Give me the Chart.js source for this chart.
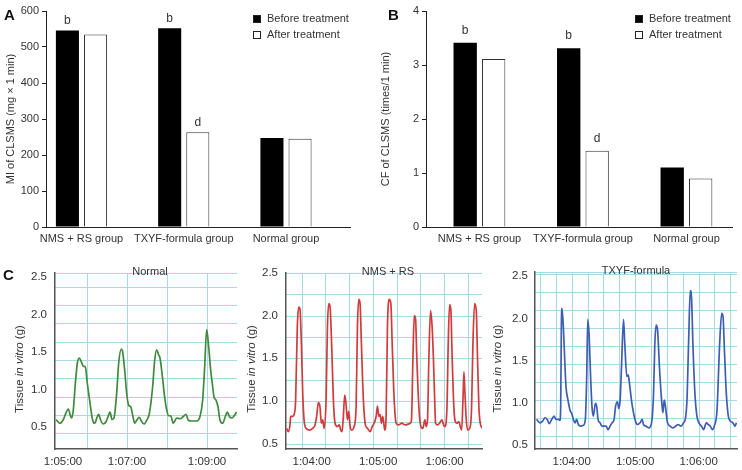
<!DOCTYPE html>
<html>
<head>
<meta charset="utf-8">
<script src="https://cdn.jsdelivr.net/npm/chart.js@4.4.1/dist/chart.umd.min.js"></script>
<style>
  html, body { margin: 0; padding: 0; background: #fff; }
  #wrap { position: relative; width: 742px; height: 470px; }
  .panel { position: absolute; }
</style>
</head>
<body>
<div id="wrap">
  <div class="panel" style="left:0;top:0;width:371px;height:255px"><canvas id="chartA"></canvas></div>
  <div class="panel" style="left:371px;top:0;width:371px;height:255px"><canvas id="chartB"></canvas></div>
  <div class="panel" style="left:0;top:258px;width:245px;height:212px"><canvas id="chartNormal"></canvas></div>
  <div class="panel" style="left:245px;top:258px;width:245px;height:212px"><canvas id="chartNms"></canvas></div>
  <div class="panel" style="left:490px;top:258px;width:252px;height:212px"><canvas id="chartTxyf"></canvas></div>
</div>
<script>
const groups = ["NMS + RS group", "TXYF-formula group", "Normal group"];
const miBefore = [546, 552, 247];
const miAfter = [535, 263, 245];
const cfBefore = [3.41, 3.31, 1.1];
const cfAfter = [3.11, 1.41, 0.9];
const marksBefore = ["b", "b", ""];
const marksAfter = ["", "d", ""];

const tensionTicks = [0.5, 1.0, 1.5, 2.0, 2.5];

// panel C traces: time in seconds after 1:00:00, tension in g
const normalTime = [313.5, 319.5, 324.5, 328.5, 332, 335.5, 337, 339.5, 342.5, 345.5, 348.5, 351.5, 354.5, 357.5, 360.5, 364.5, 368.5, 371.5, 375.5, 377.5, 380.5, 384.5, 388.5, 392.5, 394.5, 397.5, 400.5, 404.5, 407.5, 411.5, 413.5, 416.5, 419.5, 422.5, 425.5, 428.5, 431.5, 434.5, 438.5, 441.5, 445.5, 449.5, 453.5, 458.5, 461.5, 464.5, 467.5, 469.5, 472.5, 476.5, 479.5, 482.5, 485.5, 489.5, 494.5, 499.5, 504.5, 508.5, 512, 517, 524.5, 529.5, 533.5, 536.5, 539.5, 542.5, 545.5, 548.5, 550.5, 553.5, 556.5, 559.5, 563.5, 567.5, 570.5, 573.5, 577.5, 581.5, 584.5];
const normalTension = [0.60, 0.55, 0.60, 0.69, 0.74, 0.64, 0.62, 0.73, 1.08, 1.35, 1.42, 1.37, 1.31, 1.30, 1.08, 0.82, 0.59, 0.55, 0.64, 0.67, 0.59, 0.54, 0.57, 0.66, 0.70, 0.60, 0.62, 0.95, 1.35, 1.54, 1.50, 1.26, 0.95, 0.79, 0.77, 0.66, 0.55, 0.59, 0.63, 0.58, 0.54, 0.59, 0.68, 1.04, 1.39, 1.53, 1.46, 1.42, 1.22, 0.90, 0.73, 0.65, 0.65, 0.55, 0.62, 0.61, 0.64, 0.67, 0.59, 0.58, 0.58, 0.64, 0.86, 1.30, 1.80, 1.57, 1.26, 1.04, 0.90, 0.86, 0.77, 0.59, 0.55, 0.64, 0.70, 0.64, 0.62, 0.66, 0.70];
const normalTickTimes = [324, 420, 540];
const normalTickLabels = ["1:05:00", "1:07:00", "1:09:00"];

const nmsTime = [217.4, 218.9, 220.4, 221.0, 222.8, 224.0, 225.5, 227.0, 228.2, 229.4, 230.7, 231.9, 233.1, 234.9, 237.9, 240.9, 243.0, 244.5, 246.0, 247.5, 248.7, 249.9, 251.2, 253.0, 254.2, 255.4, 256.6, 258.1, 259.6, 261.1, 263.2, 265.0, 266.2, 267.4, 268.6, 269.8, 271.0, 272.3, 273.5, 274.7, 276.2, 278.3, 280.1, 281.3, 282.5, 283.7, 284.9, 286.7, 288.5, 290.4, 292.8, 294.6, 296.4, 298.2, 299.4, 300.6, 301.8, 303.0, 304.2, 306.0, 307.2, 308.4, 309.9, 311.5, 312.7, 314.5, 316.3, 318.4, 321.4, 324.4, 327.4, 328.9, 330.1, 331.4, 332.6, 333.8, 335.0, 336.8, 338.6, 340.4, 342.2, 343.4, 344.6, 345.8, 347.3, 348.8, 350.0, 350.9, 351.9, 353.7, 355.5, 357.6, 359.1, 360.3, 362.1, 363.3, 364.5, 365.7, 366.9, 368.1, 369.3, 371.2, 373.0, 374.2, 375.4, 376.6, 377.5, 378.4, 379.6, 380.8, 383.2, 384.4, 385.6, 387.1, 388.6, 389.8, 391.0, 392.2, 394.1];
const nmsTension = [0.68, 0.64, 0.72, 0.82, 0.82, 0.84, 1.01, 1.86, 2.10, 2.08, 1.67, 1.09, 0.78, 0.68, 0.66, 0.68, 0.72, 0.82, 0.98, 0.93, 0.74, 0.78, 0.68, 1.01, 1.86, 2.14, 2.10, 1.63, 1.01, 0.74, 0.70, 0.72, 0.66, 0.64, 0.82, 1.07, 0.97, 0.78, 0.88, 0.70, 0.66, 0.70, 0.93, 1.86, 2.19, 2.14, 1.67, 1.01, 0.72, 0.68, 0.64, 0.70, 0.74, 0.82, 0.94, 0.82, 0.84, 0.74, 0.82, 0.66, 0.82, 1.86, 2.19, 2.14, 1.67, 1.01, 0.74, 0.72, 0.74, 0.72, 0.73, 0.74, 0.78, 1.48, 2.00, 1.96, 1.48, 0.93, 0.70, 0.68, 0.78, 0.70, 0.78, 1.48, 2.06, 1.86, 1.47, 1.09, 0.74, 0.72, 0.74, 0.78, 0.72, 0.70, 0.90, 1.67, 2.13, 2.06, 1.48, 1.01, 0.78, 0.74, 0.76, 0.70, 0.66, 1.01, 1.34, 1.09, 0.78, 0.66, 0.70, 0.93, 1.67, 2.14, 2.06, 1.48, 0.93, 0.74, 0.68];
const nmsTickTimes = [240, 300, 360];
const nmsTickLabels = ["1:04:00", "1:05:00", "1:06:00"];

const txyfTime = [206.8, 210.0, 212.5, 214.7, 216.9, 218.8, 221.1, 223.3, 225.2, 227.4, 228.9, 229.6, 230.2, 230.8, 232.1, 233.4, 234.6, 236.5, 238.4, 240.3, 241.6, 243.2, 244.7, 246.3, 248.5, 251.1, 252.9, 254.2, 255.2, 256.4, 258.0, 259.3, 260.5, 262.4, 263.7, 264.9, 266.8, 268.7, 270.6, 272.5, 274.4, 276.3, 278.2, 280.1, 281.4, 283.3, 284.5, 285.8, 287.1, 289.0, 290.2, 292.1, 293.4, 294.6, 296.5, 298.4, 300.3, 302.2, 304.7, 306.6, 307.9, 310.4, 312.9, 315.5, 317.4, 318.6, 319.9, 321.2, 323.1, 325.0, 326.2, 327.5, 328.7, 330.6, 333.2, 335.7, 338.2, 340.7, 343.3, 345.8, 347.4, 349.0, 350.5, 352.1, 353.4, 354.6, 356.5, 358.4, 360.3, 362.8, 364.7, 367.3, 369.2, 371.1, 373.0, 374.8, 377.4, 379.9, 381.8, 383.1, 384.3, 386.2, 388.1, 390.0, 392.5, 394.4, 395.7];
const txyfTension = [0.80, 0.76, 0.78, 0.82, 0.80, 0.75, 0.80, 0.84, 0.80, 0.80, 0.79, 0.95, 1.90, 2.12, 1.90, 1.51, 1.19, 1.03, 0.91, 0.86, 0.80, 0.76, 0.80, 0.74, 0.72, 0.73, 0.80, 1.31, 1.99, 1.82, 1.27, 0.93, 0.84, 0.99, 0.95, 0.80, 0.76, 0.72, 0.72, 0.72, 0.68, 0.72, 0.76, 0.80, 0.95, 1.01, 0.93, 1.03, 1.43, 1.99, 1.70, 1.31, 1.33, 1.23, 1.03, 0.88, 0.78, 0.74, 0.76, 0.80, 0.74, 0.72, 0.70, 0.76, 1.11, 1.70, 1.92, 1.86, 1.39, 1.03, 0.88, 1.03, 0.95, 0.76, 0.72, 0.70, 0.72, 0.74, 0.72, 0.76, 0.80, 1.03, 1.70, 2.33, 2.22, 1.70, 1.11, 0.84, 0.76, 0.72, 0.68, 0.76, 0.74, 0.72, 0.68, 0.72, 0.91, 1.70, 2.06, 2.02, 1.66, 1.11, 0.84, 0.78, 0.76, 0.72, 0.76];
const txyfTickTimes = [240, 300, 360];
const txyfTickLabels = ["1:04:00", "1:05:00", "1:06:00"];

const FAM = "'Liberation Sans', Arial, sans-serif";
const TEXT = "#333";
Chart.defaults.font.family = FAM;
Chart.defaults.font.size = 11;
Chart.defaults.color = TEXT;

const panelLetter = {
  id: "panelLetter",
  afterDraw(chart, args, opts) {
    if (!opts.text) return;
    const ctx = chart.ctx;
    ctx.save();
    ctx.font = `bold 15px ${FAM}`;
    ctx.fillStyle = "#111";
    ctx.fillText(opts.text, opts.x, opts.y);
    ctx.restore();
  }
};

// letters over the bars
const sigMarks = {
  id: "sigMarks",
  afterDatasetsDraw(chart, args, opts) {
    const ctx = chart.ctx;
    ctx.save();
    ctx.font = `12px ${FAM}`;
    ctx.fillStyle = TEXT;
    ctx.textAlign = "center";
    opts.marks.forEach((list, di) => {
      chart.getDatasetMeta(di).data.forEach((bar, i) => {
        if (list[i]) ctx.fillText(list[i], bar.x, bar.y - opts.gap);
      });
    });
    ctx.restore();
  }
};

const boxLegend = {
  id: "boxLegend",
  afterDraw(chart, args, opts) {
    const ctx = chart.ctx;
    ctx.save();
    ctx.font = `11px ${FAM}`;
    ctx.textBaseline = "middle";
    chart.data.datasets.forEach((ds, i) => {
      const y = opts.y + i * 16;
      ctx.fillStyle = ds.backgroundColor;
      ctx.fillRect(opts.x, y - 4, 8, 8);
      ctx.strokeStyle = "#222";
      ctx.lineWidth = 1;
      ctx.strokeRect(opts.x + 0.5, y - 3.5, 7, 7);
      ctx.fillStyle = TEXT;
      ctx.fillText(ds.label, opts.x + 14, y);
    });
    ctx.restore();
  }
};

// light blue chart-recorder grid behind the traces
const recorderGrid = {
  id: "recorderGrid",
  beforeDraw(chart, args, opts) {
    const { ctx, chartArea: a, scales: { x, y } } = chart;
    ctx.save();
    ctx.strokeStyle = "#a9d9e4";
    ctx.lineWidth = 1;
    ctx.beginPath();
    let v = opts.x0 - Math.floor((opts.x0 - x.min) / opts.dx) * opts.dx;
    for (; v <= x.max; v += opts.dx) {
      const px = Math.round(x.getPixelForValue(v)) + 0.5;
      ctx.moveTo(px, a.top); ctx.lineTo(px, a.bottom);
    }
    v = opts.y0 - Math.floor((opts.y0 - y.min) / opts.dy) * opts.dy;
    for (; v <= y.max; v += opts.dy) {
      const py = Math.round(y.getPixelForValue(v)) + 0.5;
      ctx.moveTo(a.left, py); ctx.lineTo(a.right, py);
    }
    ctx.moveTo(a.left, a.top + 0.5); ctx.lineTo(a.right, a.top + 0.5);
    ctx.stroke();
    ctx.restore();
  }
};

const tissueTitle = {
  id: "tissueTitle",
  afterDraw(chart, args, opts) {
    const { ctx, chartArea: a } = chart;
    const parts = [["Tissue ", ""], ["in vitro", "italic "], [" (g)", ""]];
    ctx.save();
    ctx.translate(opts.x, (a.top + a.bottom) / 2 + 8);
    ctx.rotate(-Math.PI / 2);
    ctx.fillStyle = TEXT;
    ctx.textBaseline = "middle";
    const widths = parts.map(([t, s]) => { ctx.font = `${s}11.5px ${FAM}`; return ctx.measureText(t).width; });
    let pos = -widths.reduce((p, w) => p + w, 0) / 2;
    parts.forEach(([t, s], i) => {
      ctx.font = `${s}11.5px ${FAM}`;
      ctx.fillText(t, pos, 0);
      pos += widths[i];
    });
    ctx.restore();
  }
};

const traceLabel = {
  id: "traceLabel",
  afterDraw(chart, args, opts) {
    const { ctx, chartArea: a } = chart;
    ctx.save();
    ctx.font = `11px ${FAM}`;
    ctx.fillStyle = TEXT;
    ctx.textAlign = "center";
    ctx.textBaseline = "middle";
    ctx.fillText(opts.text, (a.left + a.right) / 2 + opts.dx, a.top - 1);
    ctx.restore();
  }
};

function barPanel(id, before, after, cfg) {
  new Chart(document.getElementById(id), {
    type: "bar",
    data: {
      datasets: [
        { label: "Before treatment", data: before.map((v, i) => ({ x: i, y: v })), backgroundColor: "#000", borderWidth: 0 },
        { label: "After treatment", data: after.map((v, i) => ({ x: i, y: v })), backgroundColor: "#fff", borderColor: "#333", borderWidth: 1 }
      ]
    },
    options: {
      responsive: true,
      maintainAspectRatio: false,
      animation: false,
      layout: { padding: { top: 11, right: cfg.right, left: 0, bottom: 0 } },
      datasets: { bar: { categoryPercentage: 0.55, barPercentage: 0.82 } },
      plugins: {
        legend: { display: false },
        tooltip: { enabled: false },
        sigMarks: { marks: [marksBefore, marksAfter], gap: cfg.markGap },
        boxLegend: { x: cfg.legendX, y: 19 },
        panelLetter: { text: cfg.letter, x: cfg.letterX, y: 20 }
      },
      scales: {
        x: {
          type: "linear",
          min: cfg.xMin,
          max: cfg.xMax,
          offset: false,
          afterBuildTicks: (s) => { s.ticks = groups.map((g, i) => ({ value: i })); },
          afterFit: (s) => { s.height = 28; },
          ticks: { callback: (v, i) => groups[i], autoSkip: false, maxRotation: 0, padding: 5 },
          grid: { drawOnChartArea: false, drawTicks: false },
          border: { color: "#222" }
        },
        y: {
          min: 0,
          max: cfg.yMax,
          afterFit: (s) => { s.width = cfg.yWidth; },
          ticks: { stepSize: cfg.step, padding: 3 },
          grid: { drawOnChartArea: false, tickLength: 4, color: "#222" },
          border: { color: "#222" },
          title: { display: true, text: cfg.title, padding: { top: cfg.titlePad, bottom: 0 } }
        }
      }
    },
    plugins: [sigMarks, boxLegend, panelLetter]
  });
}

function tracePanel(id, time, tension, cfg) {
  new Chart(document.getElementById(id), {
    type: "line",
    data: {
      datasets: [{
        data: time.map((t, i) => ({ x: t, y: tension[i] })),
        borderColor: cfg.color,
        borderWidth: 1.7,
        pointRadius: 0,
        cubicInterpolationMode: "monotone",
        fill: false
      }]
    },
    options: {
      responsive: true,
      maintainAspectRatio: false,
      animation: false,
      layout: { padding: { top: cfg.top, right: cfg.right, left: 0, bottom: 0 } },
      plugins: {
        legend: { display: false },
        tooltip: { enabled: false },
        recorderGrid: cfg.grid,
        tissueTitle: { x: cfg.titleX },
        traceLabel: { text: cfg.label, dx: cfg.labelDx || 0 },
        panelLetter: cfg.letter || {}
      },
      scales: {
        x: {
          type: "linear",
          min: cfg.xMin,
          max: cfg.xMax,
          afterBuildTicks: (s) => { s.ticks = cfg.tickTimes.map((v) => ({ value: v })); },
          afterFit: (s) => { s.height = 21; },
          ticks: { callback: (v, i) => cfg.tickLabels[i], autoSkip: false, maxRotation: 0, padding: 6, font: { size: 11.5 } },
          grid: { drawOnChartArea: false, drawTicks: false },
          border: { color: "#555", width: 1.5 }
        },
        y: {
          min: cfg.yMin,
          max: cfg.yMax,
          afterBuildTicks: (s) => { s.ticks = tensionTicks.map((v) => ({ value: v })); },
          afterFit: (s) => { s.width = cfg.yWidth; },
          ticks: { callback: (v) => v.toFixed(1), padding: cfg.yPad, font: { size: 11.5 } },
          grid: { drawOnChartArea: false, drawTicks: false },
          border: { color: "#555", width: 1.5 }
        }
      }
    },
    plugins: [recorderGrid, tissueTitle, traceLabel, panelLetter]
  });
}

barPanel("chartA", miBefore, miAfter, {
  letter: "A", letterX: 4, title: "MI of CLSMS (mg \u00d7 1 min)", titlePad: 4,
  yMax: 600, step: 100, yWidth: 46, right: 21, xMin: -0.347, xMax: 2.626,
  legendX: 253, markGap: 6
});
barPanel("chartB", cfBefore, cfAfter, {
  letter: "B", letterX: 17, title: "CF of CLSMS (times/1 min)", titlePad: 8,
  yMax: 4, step: 1, yWidth: 55, right: 10, xMin: -0.516, xMax: 2.44,
  legendX: 264, markGap: 9
});

tracePanel("chartNormal", normalTime, normalTension, {
  color: "#3f8a3c", label: "Normal", labelDx: 4, letter: { text: "C", x: 3, y: 22 },
  xMin: 312, xMax: 585, yMin: 0.207, yMax: 2.553,
  tickTimes: normalTickTimes, tickLabels: normalTickLabels,
  top: 15, right: 8, yWidth: 55, yPad: 8, titleX: 20,
  grid: { x0: 360, dx: 60, y0: 0.416, dy: 0.2444 }
});
tracePanel("chartNms", nmsTime, nmsTension, {
  color: "#d23b3b", label: "NMS + RS", labelDx: 4,
  xMin: 216.8, xMax: 393.8, yMin: 0.438, yMax: 2.5,
  tickTimes: nmsTickTimes, tickLabels: nmsTickLabels,
  top: 14, right: 8, yWidth: 41, yPad: 8, titleX: 7,
  grid: { x0: 231, dx: 21.4, y0: 0.5, dy: 0.25 }
});
tracePanel("chartTxyf", txyfTime, txyfTension, {
  color: "#3d5fb3", label: "TXYF-formula",
  xMin: 205.3, xMax: 396.3, yMin: 0.449, yMax: 2.551,
  tickTimes: txyfTickTimes, tickLabels: txyfTickLabels,
  top: 14, right: 5, yWidth: 45, yPad: 7, titleX: 8,
  grid: { x0: 240, dx: 15, y0: 0.599, dy: 0.2146 }
});
</script>
</body>
</html>
